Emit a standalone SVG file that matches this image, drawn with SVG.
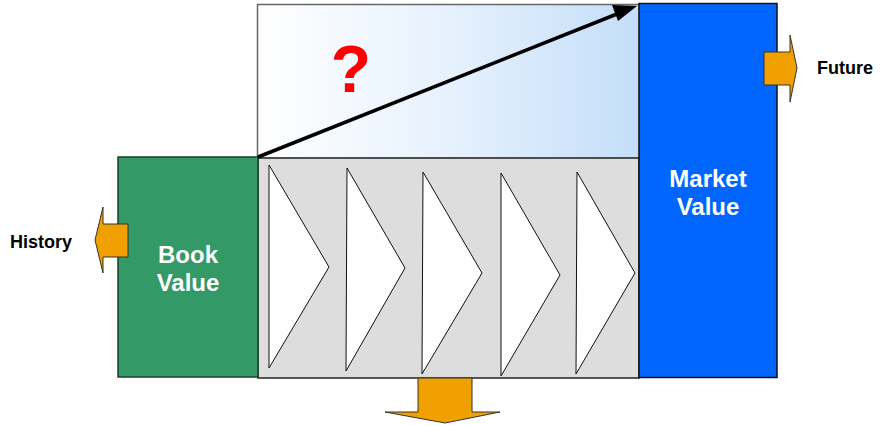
<svg xmlns="http://www.w3.org/2000/svg" width="883" height="426" viewBox="0 0 883 426">
<defs>
<linearGradient id="sky" x1="0" y1="0" x2="1" y2="0">
<stop offset="0" stop-color="#FFFFFF"/>
<stop offset="0.5" stop-color="#E6F1FD"/>
<stop offset="1" stop-color="#C4DEF9"/>
</linearGradient>
</defs>
<style>
.lbl{font-family:"Liberation Sans",Arial,sans-serif;font-weight:bold;font-size:18px;fill:#000}
.wt{font-family:"Liberation Sans",Arial,sans-serif;font-weight:bold;font-size:24px;fill:#fff;text-anchor:middle}
.orange{fill:#F0A000;stroke:#333;stroke-width:1}
.chev{fill:#fff;stroke:#111;stroke-width:1}
</style>
<g id="sky-box">
<rect x="257.5" y="4.5" width="382" height="154" fill="url(#sky)" stroke="#666" stroke-width="1.5"/>
<text x="351" y="92" font-family="Liberation Sans,Arial,sans-serif" font-weight="bold" font-size="66" fill="#FF0000" text-anchor="middle">?</text>
</g>
<g id="process">
<rect x="258" y="158" width="381" height="220" fill="#DDDDDD" stroke="#222" stroke-width="1.5"/>
<polygon class="chev" points="269,165 329,267 269,368"/>
<polygon class="chev" points="347,168 405,268 346,371"/>
<polygon class="chev" points="423,172 482,273 422,374"/>
<polygon class="chev" points="501,173 560,275 501,376"/>
<polygon class="chev" points="577,172 635,273 576,374"/>
</g>
<g id="book-value">
<rect x="118" y="157" width="140" height="220" fill="#339966" stroke="#1f3d2b" stroke-width="1.5"/>
<text class="wt" x="188" y="263">Book</text>
<text class="wt" x="188" y="291">Value</text>
</g>
<g id="market-value">
<rect x="639" y="3.5" width="138" height="374" fill="#0066FF" stroke="#111" stroke-width="1.5"/>
<text class="wt" x="708" y="187">Market</text>
<text class="wt" x="708" y="215">Value</text>
</g>
<g id="history-arrow">
<polygon class="orange" points="128,224 103,224 103,207 95,240 103,273 103,257 128,257"/>
<text class="lbl" x="10" y="248">History</text>
</g>
<g id="future-arrow">
<polygon class="orange" points="764,52 790,52 790,35 797,68 790,102 790,85 764,85"/>
<text class="lbl" x="817" y="74">Future</text>
</g>
<g id="bottom-arrow">
<polygon class="orange" points="418,378 472,378 472,412 500,412 445,423 385,412 418,412"/>
</g>
<g id="connectors">
<line x1="258" y1="157" x2="622" y2="12" stroke="#000" stroke-width="3.5"/>
<polygon points="637,6 618,21 612,5" fill="#000"/>
</g>
</svg>
